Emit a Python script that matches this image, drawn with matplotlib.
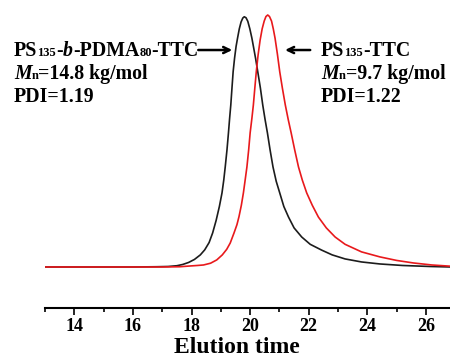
import matplotlib
matplotlib.use('Agg')
import matplotlib.pyplot as plt
from matplotlib.ticker import MultipleLocator

plt.rcParams['font.family'] = ['Liberation Serif', 'DejaVu Serif']

# GPC traces (elution time in min, normalised RI signal)
# PS135-b-PDMA80-TTC
block_time = [13.0, 16.0, 16.8, 17.2, 17.5, 17.7, 17.9, 18.1, 18.3, 18.45,
              18.6, 18.72, 18.84, 18.95, 19.04, 19.1, 19.15, 19.21, 19.26, 19.3,
              19.34, 19.38, 19.42, 19.47, 19.52, 19.57, 19.63, 19.69, 19.75, 19.8,
              19.86, 19.92, 19.99, 20.06, 20.12, 20.19, 20.26, 20.35, 20.43, 20.51,
              20.59, 20.68, 20.78, 20.89, 21.01, 21.15, 21.31, 21.5, 21.76, 22.05,
              22.44, 22.8, 23.24, 23.8, 24.43, 25.2, 26.14, 26.85]
block_signal = [0.0, 0.0, 0.001, 0.002, 0.005, 0.01, 0.018, 0.03, 0.048, 0.068,
                0.097, 0.135, 0.185, 0.24, 0.294, 0.345, 0.397, 0.465, 0.532, 0.59,
                0.643, 0.71, 0.775, 0.83, 0.875, 0.908, 0.945, 0.972, 0.988, 0.993,
                0.989, 0.975, 0.945, 0.908, 0.87, 0.825, 0.775, 0.71, 0.643, 0.585,
                0.532, 0.465, 0.397, 0.34, 0.294, 0.24, 0.198, 0.155, 0.119, 0.09,
                0.067, 0.048, 0.032, 0.02, 0.012, 0.006, 0.002, 0.0]

# PS135-TTC macro-CTA
macro_time = [13.0, 17.0, 17.6, 17.95, 18.2, 18.41, 18.65, 18.86, 19.05, 19.2,
              19.32, 19.45, 19.55, 19.62, 19.7, 19.77, 19.83, 19.89, 19.95, 20.0,
              20.06, 20.11, 20.16, 20.21, 20.27, 20.34, 20.41, 20.48, 20.54, 20.6,
              20.66, 20.73, 20.79, 20.85, 20.93, 21.01, 21.1, 21.2, 21.3, 21.4,
              21.52, 21.65, 21.78, 21.93, 22.12, 22.33, 22.6, 22.9, 23.24, 23.8,
              24.43, 25.0, 25.57, 26.2, 26.85]
macro_signal = [0.0, 0.0, 0.001, 0.004, 0.006, 0.008, 0.015, 0.028, 0.048, 0.07,
                0.095, 0.135, 0.168, 0.2, 0.245, 0.294, 0.345, 0.397, 0.465, 0.532,
                0.59, 0.643, 0.71, 0.775, 0.84, 0.9, 0.945, 0.976, 0.994, 1.0,
                0.994, 0.976, 0.945, 0.908, 0.845, 0.775, 0.71, 0.643, 0.585, 0.532,
                0.465, 0.397, 0.345, 0.294, 0.245, 0.198, 0.155, 0.119, 0.09, 0.06,
                0.04, 0.026, 0.016, 0.008, 0.003]

major_ticks = [14, 16, 18, 20, 22, 24, 26]

W, H = 450, 362
fig = plt.figure(figsize=(W / 100, H / 100), dpi=100)
ax = fig.add_axes([0.1, 0.1492, 0.9, 0.8508])

ax.plot(block_time, block_signal, color='#1c1c1c', lw=1.2, solid_joinstyle='round')
ax.plot(macro_time, macro_signal, color='#e8191c', lw=1.2, solid_joinstyle='round')

ax.set_xlim(13.0, 26.82)
ax.set_ylim(-0.1627, 1.0595)

for side in ['top', 'left', 'right']:
    ax.spines[side].set_visible(False)
ax.spines['bottom'].set_linewidth(1.5)
ax.set_yticks([])
ax.set_xticks(major_ticks)
ax.xaxis.set_minor_locator(MultipleLocator(1))
ax.tick_params(axis='x', which='major', direction='out', length=5, width=1.2, pad=2)
ax.tick_params(axis='x', which='minor', direction='out', length=3, width=1.2)
for lab in ax.get_xticklabels():
    lab.set_fontsize(13)
    lab.set_fontweight('bold')

ax.set_xlabel('Elution time', fontsize=17, fontweight='bold', labelpad=0)
ax.xaxis.set_label_coords(0.474, -0.095)

renderer = fig.canvas.get_renderer()


def put_runs(x, y, runs):
    # write text pieces one after another on a shared baseline (pixel coords, y from top)
    for s, size, style in runs:
        t = fig.text(x / W, 1 - y / H, s, fontsize=size, fontweight='bold',
                     fontstyle=style, va='baseline', ha='left')
        x += t.get_window_extent(renderer).width


big, small = 14.3, 9
put_runs(14, 56, [('PS', big, 'normal'), ('135', small, 'normal'), ('-', big, 'normal'),
                  ('b', big, 'italic'), ('-PDMA', big, 'normal'), ('80', small, 'normal'),
                  ('-TTC', big, 'normal')])
put_runs(14, 79, [('M', big, 'italic'), ('n', small, 'normal'), ('=14.8 kg/mol', big, 'normal')])
put_runs(14, 102, [('PDI=1.19', big, 'normal')])

put_runs(321, 56, [('PS', big, 'normal'), ('135', small, 'normal'), ('-TTC', big, 'normal')])
put_runs(321, 79, [('M', big, 'italic'), ('n', small, 'normal'), ('=9.7 kg/mol', big, 'normal')])
put_runs(321, 102, [('PDI=1.22', big, 'normal')])

arrow = dict(arrowstyle='->, head_length=0.45, head_width=0.22', lw=1.8, color='black',
             shrinkA=0, shrinkB=0)
ax.annotate('', xy=(19.39, 0.861), xytext=(18.23, 0.861), arrowprops=arrow)
ax.annotate('', xy=(21.19, 0.861), xytext=(22.05, 0.861), arrowprops=arrow)

fig.savefig('out.png', dpi=100)
